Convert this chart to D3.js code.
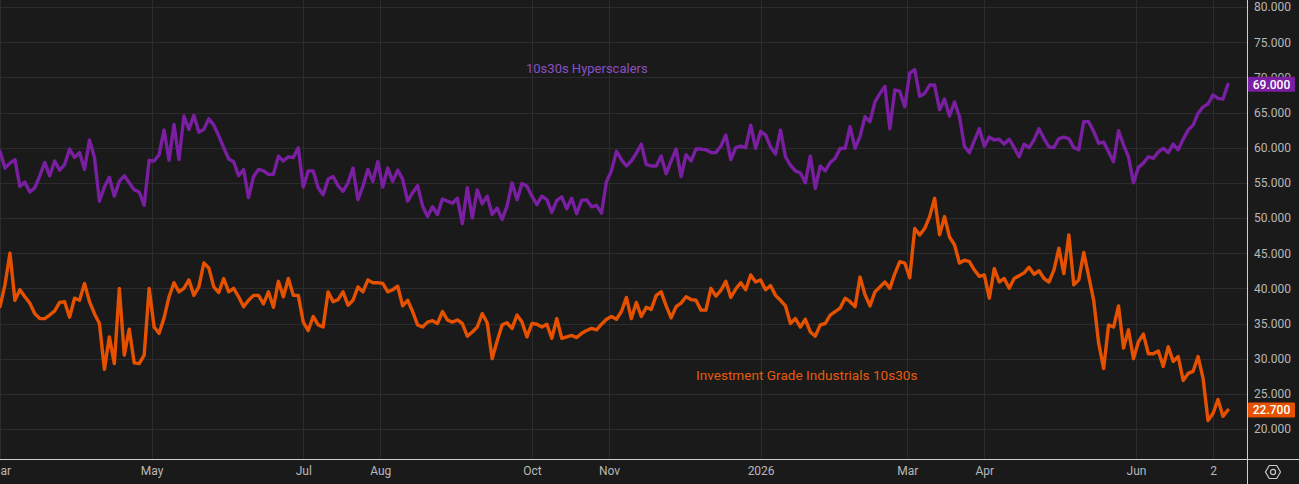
<!DOCTYPE html>
<html>
<head>
<meta charset="utf-8">
<script src="https://cdn.jsdelivr.net/npm/d3@7"></script>
<style>
  html, body { margin: 0; padding: 0; background: #1a1a1a; }
  svg { display: block; }
</style>
</head>
<body>
<div id="chart"></div>
<script>
// one sample every 2 calendar days, starting 1 Mar 2025
const startDate = "2025-03-01";
const stepDays = 2;

const hyperscalers = [
  59.5, 57.1, 57.8, 58.3, 54.5, 55.1, 53.7, 54.3, 56, 57.9,
  56, 58.1, 56.8, 57.6, 59.8, 58.6, 59.3, 56.9, 61.1, 58.6,
  52.4, 54.4, 55.8, 53.1, 55.2, 56, 55, 54, 53.7, 51.8,
  58.2, 58.1, 59, 62.5, 58.2, 63.3, 58.3, 64.5, 62.6, 64.6,
  62.2, 62.6, 64.1, 63.2, 61.7, 60, 58.4, 58, 56, 56.9,
  52.9, 55.9, 56.9, 56.7, 56.2, 56.2, 58.8, 58.1, 58.7, 58.6,
  60, 54.4, 56.7, 56.7, 54.3, 53.3, 55.5, 55.9, 54.6, 53.8,
  55, 57.1, 52.6, 54.5, 56.9, 55.2, 58, 54.4, 57.1, 55.2,
  56.8, 55.5, 52.4, 53.6, 54.6, 51.7, 50.2, 51.6, 50.5, 52.7,
  52.4, 52.1, 52.8, 49.2, 54.3, 50, 54, 52, 53.1, 50.5,
  51.4, 49.8, 51.7, 55, 52.6, 54.9, 54.5, 53.1, 51.9, 53.1,
  52.6, 50.8, 52.5, 53, 51.3, 52.8, 50.6, 52.5, 52.6, 51.6,
  51.8, 50.7, 55.2, 56.7, 59.5, 58.3, 57.4, 58.1, 59.2, 60.5,
  57.6, 57.4, 57.4, 58.8, 56.3, 58.1, 59.8, 55.9, 59, 58.1,
  59.8, 59.8, 59.7, 59.3, 59.3, 60.2, 61.8, 58.3, 60, 60.2,
  60, 63.2, 59.9, 62.3, 61.8, 60.1, 59.1, 62.5, 58.7, 57.5,
  56.7, 56.4, 55, 58.8, 54.2, 57.4, 56.7, 57.9, 58.5, 59.9,
  59.9, 63, 59.9, 61.6, 64.4, 63.7, 66.5, 67.7, 68.7, 62.7,
  68.2, 68, 65.8, 70.6, 71.1, 67.3, 67.7, 68.9, 68.9, 65.4,
  66.9, 64.5, 66.5, 64.4, 60.2, 59.3, 61, 62.7, 60.2, 61.5,
  61.1, 61.2, 60.5, 61.2, 60, 58.7, 60.5, 60, 61.1, 62.7,
  61.3, 60.1, 60, 61.3, 61.5, 61.3, 60, 59.7, 63.7, 63.7,
  62.3, 60.6, 60.8, 59.4, 58, 62.4, 60.4, 58.7, 55, 57.2,
  57.8, 58.7, 58.5, 59.4, 59.9, 59.3, 60.5, 59.7, 61.2, 62.5,
  63.2, 64.9, 65.8, 66.2, 67.5, 67, 66.9, 69
];

const industrials = [
  37.4, 40.5, 45, 38.3, 39.8, 38.8, 37.9, 36.4, 35.7, 35.7,
  36.2, 36.8, 38, 38.1, 35.9, 38.6, 38.3, 40.7, 38.1, 36.4,
  35, 28.5, 33.1, 29.3, 40, 30.5, 34.2, 29.4, 29.3, 30.5,
  40, 34.5, 33.6, 35.8, 38.8, 40.8, 39.5, 40, 41.2, 39,
  40.2, 43.6, 42.9, 40.2, 39.4, 41.4, 39.5, 40, 38.8, 37.4,
  38.3, 39, 39, 37.8, 39.5, 37.3, 41, 38.8, 41.4, 39,
  39, 35.2, 34, 36, 34.8, 34.5, 39.5, 38.1, 38.4, 39.5,
  37.6, 38.3, 40.2, 39.5, 41.2, 40.8, 40.8, 40.7, 39.5, 39.8,
  40.3, 37.5, 38.3, 36.7, 34.8, 34.5, 35.2, 35.4, 35, 36.7,
  35.5, 35.2, 35.5, 35, 33.2, 33.8, 34.5, 36.4, 35.1, 30,
  32.5, 34.8, 35.1, 34.3, 36.2, 35.2, 33.1, 35, 34.9, 34.5,
  34.9, 32.9, 35.7, 32.9, 33.1, 33.3, 33, 33.6, 34, 34.3,
  34.1, 34.9, 35.6, 36, 35.6, 36.7, 38.7, 35.7, 38, 36,
  37.3, 37, 39, 39.5, 37.5, 35.8, 37.4, 37.9, 38.8, 38.4,
  38.3, 36.9, 36.9, 40, 38.9, 39.7, 41, 38.7, 39.9, 40.8,
  39.8, 41.9, 40.9, 41.2, 39.8, 40.4, 39, 38.3, 37.5, 35,
  35.7, 34.5, 35.6, 33.8, 33.2, 34.8, 35, 36.2, 36.7, 37.2,
  38.6, 38.1, 37.4, 41.6, 39.1, 37.5, 39.5, 40.2, 40.9, 40,
  42.1, 43.8, 43.6, 41.5, 48.5, 47.6, 48.5, 50.2, 52.8, 47.6,
  50.2, 47.3, 46.2, 43.6, 44, 43.8, 42.6, 41.7, 41.9, 38.6,
  42.8, 40.9, 41.4, 40, 41.4, 41.8, 42.2, 43, 42, 42.5,
  41.4, 40.9, 42.6, 45.7, 42.1, 47.6, 40.5, 41.2, 45.1, 41.7,
  38.3, 32.2, 28.6, 34.8, 34.5, 37.5, 31.5, 34.1, 30, 32.4,
  33.5, 30.7, 30.7, 31.1, 28.9, 31.7, 29.6, 30.3, 26.9, 27.9,
  28.2, 30.3, 27.2, 21.2, 22.2, 24.2, 21.8, 22.7
];

const tickDates = ["2025-03-01", "2025-05-01", "2025-07-01", "2025-08-01", "2025-10-01",
  "2025-11-01", "2026-01-01", "2026-03-01", "2026-04-01", "2026-06-01", "2026-07-02"];
const tickLabels = ["Mar", "May", "Jul", "Aug", "Oct", "Nov", "2026", "Mar", "Apr", "Jun", "2"];
const yTicks = [20, 25, 30, 35, 40, 45, 50, 55, 60, 65, 70, 75, 80];

const purple = "#7b1fa2";
const orange = "#e65100";

const W = 1299, H = 484;
const plotRight = 1247, axisY = 459;

const parse = d3.utcParse("%Y-%m-%d");
const start = parse(startDate);
const dates = hyperscalers.map((d, i) => d3.utcDay.offset(start, i * stepDays));

const x = d3.scaleUtc()
  .domain([parse("2025-03-01"), parse("2026-07-02")])
  .range([0, 1213]);
const y = d3.scaleLinear().domain([20, 80]).range([429, 7]);

const svg = d3.select("#chart").append("svg")
  .attr("width", W)
  .attr("height", H)
  .style("font-family", "Roboto, sans-serif");

svg.append("rect").attr("width", W).attr("height", H).attr("fill", "#1a1a1a");

// grid
const grid = svg.append("g").attr("stroke", "#2c2c2e").attr("stroke-width", 1);
grid.selectAll(".hg").data(yTicks).enter().append("line")
  .attr("x1", 0).attr("x2", plotRight)
  .attr("y1", (d) => Math.round(y(d)) + 0.5).attr("y2", (d) => Math.round(y(d)) + 0.5);
grid.selectAll(".vg").data(tickDates).enter().append("line")
  .attr("x1", (d) => Math.round(x(parse(d))) + 0.5).attr("x2", (d) => Math.round(x(parse(d))) + 0.5)
  .attr("y1", 0).attr("y2", axisY);

// series
const line = (vals) => d3.line()
  .x((d, i) => x(dates[i]))
  .y((d) => y(d))(vals);

svg.append("path").attr("d", line(hyperscalers))
  .attr("fill", "none").attr("stroke", purple).attr("stroke-width", 3.4)
  .attr("stroke-linejoin", "round").attr("stroke-linecap", "round");
svg.append("path").attr("d", line(industrials))
  .attr("fill", "none").attr("stroke", orange).attr("stroke-width", 3.4)
  .attr("stroke-linejoin", "round").attr("stroke-linecap", "round");

// series labels
svg.append("text").attr("x", 526).attr("y", 73)
  .attr("fill", "#8a4fc4").attr("font-size", 13).text("10s30s Hyperscalers");
svg.append("text").attr("x", 696).attr("y", 380)
  .attr("fill", "#e65a0e").attr("font-size", 13.6).text("Investment Grade Industrials 10s30s");

// axes borders
svg.append("line").attr("x1", 0).attr("x2", W).attr("y1", axisY + 0.5).attr("y2", axisY + 0.5)
  .attr("stroke", "#d0d0d0");
svg.append("line").attr("x1", plotRight + 0.5).attr("x2", plotRight + 0.5).attr("y1", 0).attr("y2", H)
  .attr("stroke", "#d0d0d0");

// right axis
const yAxis = d3.axisRight(y).tickValues(yTicks).tickFormat(d3.format(".3f")).tickSize(0).tickPadding(0);
const ya = svg.append("g").attr("transform", `translate(1254,0)`).call(yAxis);
ya.select(".domain").remove();
ya.selectAll("text").attr("fill", "#b8b8b8").attr("font-size", 12).attr("font-family", "Roboto, sans-serif");

// bottom axis
const xAxis = d3.axisBottom(x).tickValues(tickDates.map(parse))
  .tickFormat((d, i) => tickLabels[i]).tickSize(0).tickPadding(0);
const xa = svg.append("g").attr("transform", `translate(0,${axisY + 7})`).call(xAxis);
xa.select(".domain").remove();
xa.selectAll("text").attr("fill", "#b8b8b8").attr("font-size", 12).attr("font-family", "Roboto, sans-serif")
  .attr("dy", "0.71em");

// last value badges
const badges = [
  { v: hyperscalers[hyperscalers.length - 1], c: purple },
  { v: industrials[industrials.length - 1], c: orange },
];
const bg = svg.selectAll(".badge").data(badges).enter().append("g");
bg.append("rect").attr("x", 1248).attr("width", 47).attr("height", 15)
  .attr("y", (d) => y(d.v) - 7.5).attr("rx", 1).attr("fill", (d) => d.c);
bg.append("text").attr("x", 1271.5).attr("y", (d) => y(d.v)).attr("dy", "0.35em")
  .attr("text-anchor", "middle").attr("fill", "#ffffff").attr("font-size", 12).attr("font-weight", 500)
  .text((d) => d3.format(".3f")(d.v));

// settings icon
const cx = 1273, cy = 472, r = 7.5;
const hex = d3.range(6).map((k) => {
  const a = Math.PI / 3 * k;
  return [cx + r * Math.cos(a), cy + r * Math.sin(a)];
});
svg.append("path").attr("d", "M" + hex.join("L") + "Z")
  .attr("fill", "none").attr("stroke", "#c8c8c8").attr("stroke-width", 1.2);
svg.append("circle").attr("cx", cx).attr("cy", cy).attr("r", 2.6)
  .attr("fill", "none").attr("stroke", "#c8c8c8").attr("stroke-width", 1.2);
</script>
</body>
</html>
